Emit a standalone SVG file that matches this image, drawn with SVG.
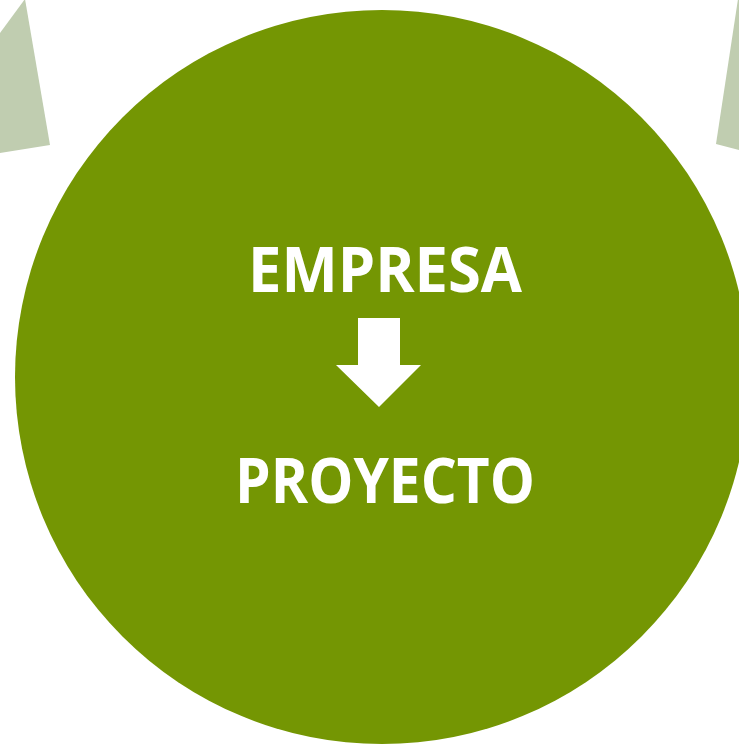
<svg xmlns="http://www.w3.org/2000/svg" width="739" height="745" viewBox="0 0 739 745">
<style>
.side{fill:#C0CDB0}
.lbl{fill:#FFFFFF;font-family:"Open Sans","Liberation Sans",sans-serif;font-weight:bold;font-size:62px;text-anchor:middle}
</style>
<rect width="739" height="745" fill="#FFFFFF"/>
<g id="left-shape"><polygon class="side" points="0,33 25,-1 50,145 0,153"/></g>
<g id="right-shape"><polygon class="side" points="716,144 738,-1 739,-1 739,150"/></g>
<g id="main">
<circle cx="382" cy="377" r="367" fill="#749603"/>
<text class="lbl" x="385" y="292" textLength="274" lengthAdjust="spacingAndGlyphs">EMPRESA</text>
<polygon fill="#FFFFFF" points="358,318 400,318 400,365 421,365 379,407 336,365 358,365"/>
<text class="lbl" x="385" y="503" textLength="300" lengthAdjust="spacingAndGlyphs">PROYECTO</text>
</g>
</svg>
